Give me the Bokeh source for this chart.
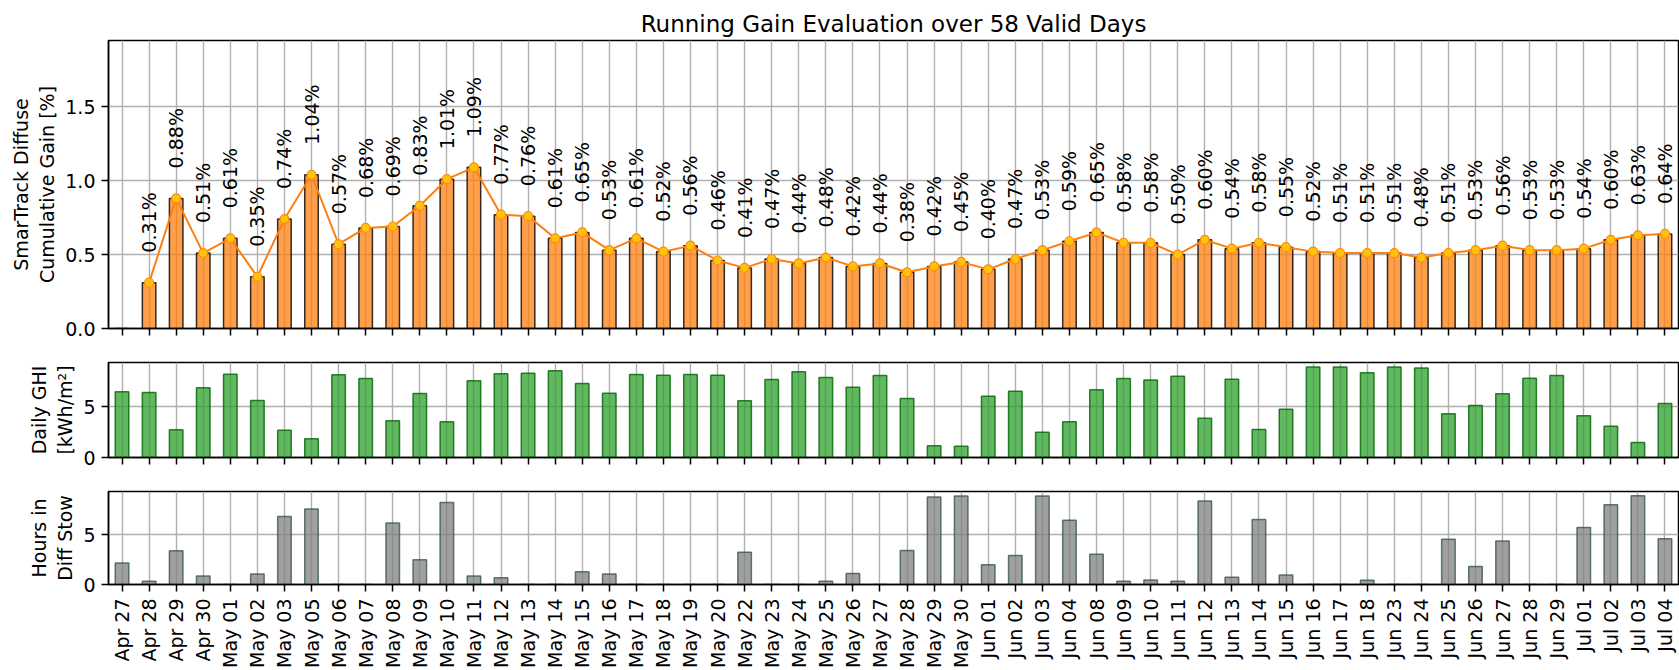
import math
from bokeh.plotting import figure
from bokeh.models import ColumnDataSource, FactorRange, Range1d, FixedTicker, LabelSet, PrintfTickFormatter
from bokeh.layouts import column
from bokeh.core.properties import value
from bokeh.embed import file_html
from bokeh.resources import INLINE

dates = ["Apr 27", "Apr 28", "Apr 29", "Apr 30",
         "May 01", "May 02", "May 03", "May 05", "May 06", "May 07", "May 08", "May 09",
         "May 10", "May 11", "May 12", "May 13", "May 14", "May 15", "May 16", "May 17",
         "May 18", "May 19", "May 20", "May 22", "May 23", "May 24", "May 25", "May 26",
         "May 27", "May 28", "May 29", "May 30",
         "Jun 01", "Jun 02", "Jun 03", "Jun 04", "Jun 08", "Jun 09", "Jun 10", "Jun 11",
         "Jun 12", "Jun 13", "Jun 14", "Jun 15", "Jun 16", "Jun 17", "Jun 18", "Jun 23",
         "Jun 24", "Jun 25", "Jun 26", "Jun 27", "Jun 28", "Jun 29",
         "Jul 01", "Jul 02", "Jul 03", "Jul 04"]

gain = [0.00, 0.31, 0.88, 0.51, 0.61, 0.35, 0.74, 1.04, 0.57, 0.68, 0.69, 0.83,
        1.01, 1.09, 0.77, 0.76, 0.61, 0.65, 0.53, 0.61, 0.52, 0.56, 0.46, 0.41,
        0.47, 0.44, 0.48, 0.42, 0.44, 0.38, 0.42, 0.45, 0.40, 0.47, 0.53, 0.59,
        0.65, 0.58, 0.58, 0.50, 0.60, 0.54, 0.58, 0.55, 0.52, 0.51, 0.51, 0.51,
        0.48, 0.51, 0.53, 0.56, 0.53, 0.53, 0.54, 0.60, 0.63, 0.64]

ghi = [6.48, 6.41, 2.73, 6.88, 8.22, 5.62, 2.70, 1.84, 8.16, 7.80, 3.62, 6.32,
       3.52, 7.57, 8.26, 8.32, 8.55, 7.30, 6.35, 8.19, 8.12, 8.19, 8.12, 5.59,
       7.70, 8.45, 7.89, 6.94, 8.09, 5.82, 1.15, 1.12, 6.05, 6.55, 2.50, 3.52,
       6.68, 7.80, 7.66, 8.03, 3.88, 7.73, 2.76, 4.77, 8.93, 8.93, 8.36, 8.93,
       8.82, 4.31, 5.13, 6.28, 7.83, 8.09, 4.11, 3.09, 1.48, 5.33]

stow = [2.16, 0.33, 3.40, 0.85, 0.00, 1.05, 6.83, 7.58, 0.00, 0.00, 6.18, 2.48,
        8.24, 0.85, 0.69, 0.00, 0.00, 1.27, 1.05, 0.00, 0.00, 0.00, 0.00, 3.24,
        0.00, 0.00, 0.33, 1.11, 0.00, 3.43, 8.79, 8.89, 1.99, 2.91, 8.90, 6.47,
        3.04, 0.33, 0.46, 0.33, 8.40, 0.72, 6.54, 0.95, 0.00, 0.00, 0.42, 0.00,
        0.00, 4.54, 1.80, 4.38, 0.00, 0.00, 5.72, 8.01, 8.92, 4.61]

title = "Running Gain Evaluation over 58 Valid Days"
ylabel_gain = "SmarTrack Diffuse\nCumulative Gain [%]"
ylabel_ghi = "Daily GHI\n[kWh/m\u00b2]"
ylabel_stow = "Hours in\nDiff Stow"

FONT = "DejaVu Sans"
FS = "19px"
W = 1679
LEFT = 108

src = ColumnDataSource(dict(d=dates, gain=gain, ghi=ghi, stow=stow))
line_src = ColumnDataSource(dict(d=dates[1:], g=gain[1:],
                                 t=[f"{v:.2f}%" for v in gain[1:]]))


def style(p, yticks, show_x_labels):
    p.outline_line_color = "black"
    p.outline_line_width = 1.5
    p.axis.axis_line_color = "black"
    p.axis.axis_line_width = 1.5
    p.axis.major_tick_line_color = "black"
    p.axis.major_tick_line_width = 1.5
    p.axis.major_tick_out = 7
    p.axis.major_tick_in = 0
    p.axis.minor_tick_line_color = None
    p.axis.major_label_text_font = FONT
    p.axis.major_label_text_font_size = FS
    p.axis.major_label_text_color = "black"
    p.axis.major_label_standoff = 6
    p.yaxis.ticker = FixedTicker(ticks=yticks)
    p.yaxis.axis_label_text_font = FONT
    p.yaxis.axis_label_text_font_size = FS
    p.yaxis.axis_label_text_font_style = "normal"
    p.yaxis.axis_label_text_color = "black"
    p.yaxis.axis_label_standoff = 4
    p.xgrid.grid_line_color = "#b0b0b0"
    p.xgrid.grid_line_width = 1.4
    p.ygrid.grid_line_color = "#b0b0b0"
    p.ygrid.grid_line_width = 1.4
    if show_x_labels:
        p.xaxis.major_label_orientation = math.pi / 2
        p.xaxis.major_label_standoff = 7
    else:
        p.xaxis.major_label_text_font_size = "1px"
        p.xaxis.major_label_text_color = None
        p.xaxis.major_label_standoff = 0


# --- top: cumulative gain ---
p1 = figure(width=W, height=345, x_range=FactorRange(*dates), y_range=Range1d(0, 1.948),
            output_backend="svg", toolbar_location=None,
            min_border_left=LEFT, min_border_right=1, min_border_top=40, min_border_bottom=17)
p1.title.text = title
p1.title.align = "center"
p1.title.text_font = FONT
p1.title.text_font_size = "23px"
p1.title.text_font_style = "normal"
p1.title.text_color = "black"
p1.title.standoff = 8
p1.title.offset = 0
p1.vbar(x="d", top="gain", width=0.5, source=src, fill_color="#ff7f0e", fill_alpha=0.75,
        line_color="black", line_alpha=0.8, line_width=1.5)
p1.line(x="d", y="g", source=line_src, line_color="#ff7f0e", line_width=2)
p1.scatter(x="d", y="g", source=line_src, size=9, fill_color="#ffc20e",
           line_color="#ff8c00", line_width=1.2)
labels = LabelSet(x="d", y="g", text="t", source=line_src, angle=math.pi / 2,
                  y_offset=30, text_align="left", text_baseline="middle",
                  text_font=value(FONT), text_font_size="19px", text_color="black")
p1.add_layout(labels)
p1.yaxis.axis_label = ylabel_gain
p1.yaxis.formatter = PrintfTickFormatter(format="%.1f")
style(p1, [0, 0.5, 1.0, 1.5], False)

# --- middle: daily GHI ---
p2 = figure(width=W, height=129, x_range=p1.x_range, y_range=Range1d(0, 9.375),
            output_backend="svg", toolbar_location=None,
            min_border_left=LEFT, min_border_right=1, min_border_top=17, min_border_bottom=17)
p2.vbar(x="d", top="ghi", width=0.5, source=src, fill_color="#2ca02c", fill_alpha=0.75,
        line_color="#006400", line_alpha=0.8, line_width=1.5)
p2.yaxis.axis_label = ylabel_ghi
style(p2, [0, 5], False)

# --- bottom: hours in diffuse stow ---
p3 = figure(width=W, height=196, x_range=p1.x_range, y_range=Range1d(0, 9.35),
            output_backend="svg", toolbar_location=None,
            min_border_left=LEFT, min_border_right=1, min_border_top=17, min_border_bottom=84)
p3.vbar(x="d", top="stow", width=0.5, source=src, fill_color="#808080", fill_alpha=0.75,
        line_color="#2f4f4f", line_alpha=0.75, line_width=1.5)
p3.yaxis.axis_label = ylabel_stow
style(p3, [0, 5], True)

layout = column(p1, p2, p3)
open("out.html", "w").write(file_html(layout, INLINE))
